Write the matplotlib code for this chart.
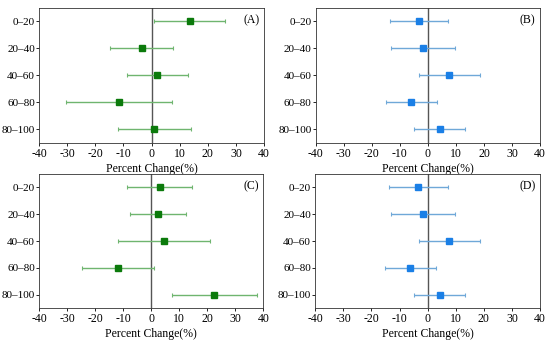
import numpy as np
import matplotlib.pyplot as plt

plt.rcParams['font.family'] = ['Liberation Serif', 'DejaVu Serif']

depths = ['0\u201320', '20\u201340', '40\u201360', '60\u201380', '80\u2013100']
x_ticks = [-40, -30, -20, -10, 0, 10, 20, 30, 40]

# mean, lower bound, upper bound (percent change)
a_mean = [13.6, -3.4, 2.1, -11.5, 0.9]
a_low = [0.9, -14.8, -8.6, -30.5, -11.8]
a_high = [26.2, 7.8, 13.0, 7.3, 14.0]

b_mean = [-3.2, -1.7, 7.7, -6.1, 4.3]
b_low = [-13.6, -13.0, -3.1, -15.1, -4.8]
b_high = [7.0, 9.7, 18.5, 3.1, 13.4]

c_mean = [3.1, 2.3, 4.5, -11.9, 22.5]
c_low = [-8.8, -7.7, -11.8, -24.7, 7.3]
c_high = [14.7, 12.4, 20.9, 1.0, 37.7]

d_mean = [-3.3, -1.7, 7.7, -6.2, 4.3]
d_low = [-13.7, -13.0, -3.1, -15.2, -4.7]
d_high = [7.1, 9.7, 18.5, 3.0, 13.3]

green = ('#0b7a0b', '#6fb56f')
blue = ('#1a7fe6', '#6fa8d8')

panels = [
    ('(A)', a_mean, a_low, a_high, green, [0.071, 0.582, 0.409, 0.395]),
    ('(B)', b_mean, b_low, b_high, blue, [0.574, 0.582, 0.408, 0.395]),
    ('(C)', c_mean, c_low, c_high, green, [0.071, 0.099, 0.408, 0.392]),
    ('(D)', d_mean, d_low, d_high, blue, [0.573, 0.099, 0.409, 0.392]),
]

fig = plt.figure(figsize=(5.5, 3.42), dpi=100)

for label, mean, low, high, colors, rect in panels:
    ax = fig.add_axes(rect)
    mean = np.array(mean)
    y = np.arange(len(depths))
    xerr = [mean - np.array(low), np.array(high) - mean]
    ax.axvline(0, color='#555555', lw=1.0, zorder=1)
    ax.errorbar(mean, y, xerr=xerr, fmt='none', ecolor=colors[1],
                elinewidth=1.0, capsize=1.5, capthick=0.8, zorder=2)
    ax.plot(mean, y, 's', color=colors[0], ms=5, zorder=3)
    ax.set_xlim(-40, 40)
    ax.set_ylim(4.5, -0.5)
    ax.set_xticks(x_ticks)
    ax.set_xticklabels([str(t) for t in x_ticks])
    ax.set_yticks(y)
    ax.set_yticklabels(depths)
    ax.tick_params(axis='x', labelsize=8.5, length=2, width=0.6, pad=1.5)
    ax.tick_params(axis='y', labelsize=8, length=2, width=0.6, pad=1)
    ax.set_xlabel('Percent Change(%)', fontsize=8.5, labelpad=2.5)
    for s in ax.spines.values():
        s.set_linewidth(0.6)
        s.set_color('#333333')
    ax.text(0.98, 0.95, label, transform=ax.transAxes, ha='right', va='top',
            fontsize=8.5)

fig.savefig('out.png', dpi=100)
